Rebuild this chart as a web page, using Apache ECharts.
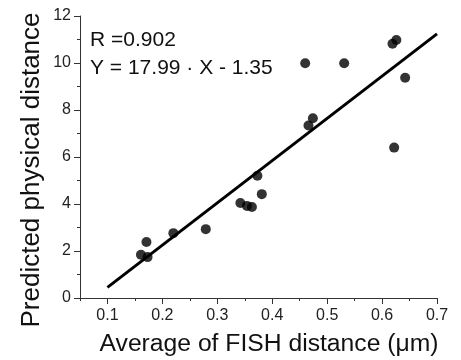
<!DOCTYPE html>
<html>
<head>
<meta charset="utf-8">
<script src="https://cdn.jsdelivr.net/npm/echarts@6/dist/echarts.min.js"></script>
<style>html,body{margin:0;padding:0;background:#fff}#c{width:461px;height:360px}</style>
</head>
<body>
<div id="c"></div>
<script>
// Data
const fishX = [0.161, 0.171, 0.173, 0.220, 0.279, 0.342, 0.354, 0.363, 0.373, 0.381, 0.460, 0.466, 0.474, 0.531, 0.619, 0.626, 0.622, 0.642];
const physY = [1.84, 2.38, 1.74, 2.76, 2.93, 4.04, 3.92, 3.87, 5.20, 4.42, 9.99, 7.34, 7.65, 9.99, 10.82, 10.98, 6.40, 9.37];
const fitX = [0.1, 0.7];
const fitY = [0.45, 11.24];
const xTickLabels = [0.1, 0.2, 0.3, 0.4, 0.5, 0.6, 0.7];
const yTickLabels = [0, 2, 4, 6, 8, 10, 12];
const xTitle = 'Average of FISH distance (\u03bcm)';
const yTitle = 'Predicted physical distance';
const annotR = 'R =0.902';
const annotEq = 'Y = 17.99 \u00b7 X - 1.35';

const FONT = '"Liberation Sans", Arial, sans-serif';
const chart = echarts.init(document.getElementById('c'), null, {renderer: 'canvas'});
const axisLineStyle = {color: '#333', width: 1};
chart.setOption({
  animation: false,
  grid: {left: 80, right: 24, top: 16, bottom: 62, containLabel: false},
  xAxis: [{
    type: 'value', min: 0.05, max: 0.7, interval: 0.05,
    axisLine: {show: true, onZero: false, lineStyle: axisLineStyle},
    axisTick: {show: true, length: 3, lineStyle: axisLineStyle},
    axisLabel: {show: false},
    splitLine: {show: false}
  }, {
    type: 'value', min: 0.05, max: 0.7, position: 'bottom',
    axisLine: {show: false},
    axisTick: {show: true, length: 6, customValues: xTickLabels, lineStyle: axisLineStyle},
    axisLabel: {show: true, customValues: xTickLabels, margin: 10, fontFamily: FONT, fontSize: 16, color: '#222',
      formatter: v => v.toFixed(1)},
    splitLine: {show: false}
  }],
  yAxis: {
    type: 'value', min: 0, max: 12, interval: 2,
    axisLine: {show: true, lineStyle: axisLineStyle},
    axisTick: {show: true, length: 6, lineStyle: axisLineStyle},
    minorTick: {show: true, splitNumber: 2, length: 3, lineStyle: axisLineStyle},
    axisLabel: {margin: 9, fontFamily: FONT, fontSize: 16, color: '#222',
      customValues: yTickLabels},
    splitLine: {show: false}, minorSplitLine: {show: false}
  },
  graphic: [
    {type: 'text', left: 90, top: 30, style: {text: annotR, font: '21px ' + FONT, fill: '#111'}},
    {type: 'text', left: 90, top: 58, style: {text: annotEq, font: '21px ' + FONT, fill: '#111'}},
    {type: 'text', x: 269, y: 344, style: {text: xTitle, font: '24.7px ' + FONT, fill: '#111',
      align: 'center', verticalAlign: 'middle'}},
    {type: 'text', x: 32, y: 170, rotation: Math.PI / 2, style: {text: yTitle, font: '26px ' + FONT, fill: '#111',
      align: 'center', verticalAlign: 'middle'}}
  ],
  series: [{
    type: 'line', xAxisIndex: 0,
    data: fitX.map((x, i) => [x, fitY[i]]),
    showSymbol: false, symbol: 'none',
    lineStyle: {color: '#000', width: 3}, z: 2
  }, {
    type: 'scatter', xAxisIndex: 0,
    data: fishX.map((x, i) => [x, physY[i]]),
    symbolSize: 10, itemStyle: {color: '#000'}, z: 3
  }]
});
</script>
</body>
</html>
